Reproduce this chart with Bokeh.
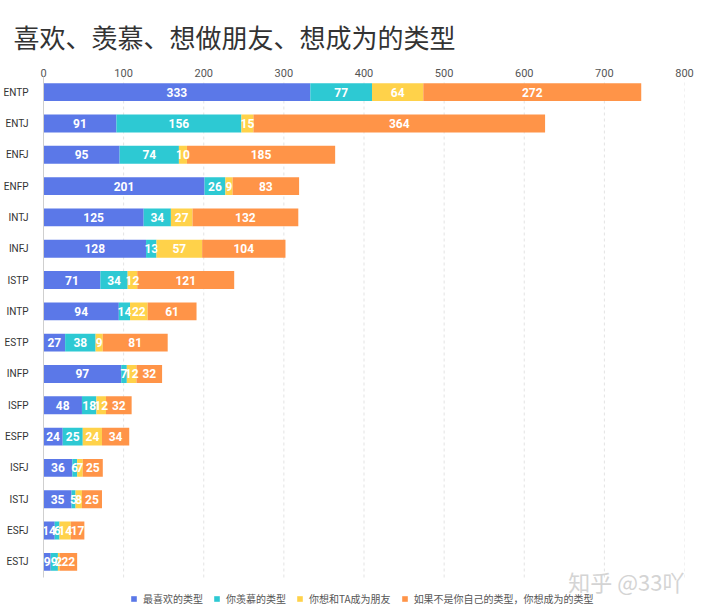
from bokeh.plotting import figure
from bokeh.models import (Range1d, Label, Legend, LegendItem,
                          ColumnDataSource, FixedTicker)
from bokeh.core.properties import value
from bokeh.embed import file_html
from bokeh.resources import INLINE

types = ["ENTP", "ENTJ", "ENFJ", "ENFP", "INTJ", "INFJ", "ISTP", "INTP",
         "ESTP", "INFP", "ISFP", "ESFP", "ISFJ", "ISTJ", "ESFJ", "ESTJ"]
like = [333, 91, 95, 201, 125, 128, 71, 94, 27, 97, 48, 24, 36, 35, 14, 9]
envy = [77, 156, 74, 26, 34, 13, 34, 14, 38, 7, 18, 25, 6, 5, 6, 9]
friend = [64, 15, 10, 9, 27, 57, 12, 22, 9, 12, 12, 24, 7, 8, 14, 2]
become = [272, 364, 185, 83, 132, 104, 121, 61, 81, 32, 32, 34, 25, 25, 17, 22]

series_names = ["最喜欢的类型", "你羡慕的类型", "你想和TA成为朋友", "如果不是你自己的类型，你想成为的类型"]
series_keys = ["like", "envy", "friend", "become"]
colors = ["#5b78e8", "#2dc9d3", "#ffd24a", "#ff9448"]
x_ticks = [0, 100, 200, 300, 400, 500, 600, 700, 800]

title_text = "喜欢、羡慕、想做朋友、想成为的类型"
watermark = "知乎 @33吖"

CJK = "Noto Sans CJK SC"
NUM = "Roboto"

n = len(types)
ypos = [n - 1 - i for i in range(n)]          # ENTP at top
band_px = 501 / n
pad = 29 / band_px                              # room below the last row for the legend

src = ColumnDataSource(dict(y=ypos, like=like, envy=envy, friend=friend, become=become))

p = figure(frame_width=641, frame_height=530, output_backend="svg", toolbar_location=None,
           x_range=Range1d(0, 800), y_range=Range1d(-0.5 - pad, n - 0.5),
           x_axis_location="above",
           min_border_left=35, min_border_right=28, min_border_top=76, min_border_bottom=0)
p.outline_line_color = None
p.background_fill_color = "white"
p.border_fill_color = "white"

p.title.text = title_text
p.title.text_font = CJK
p.title.text_font_size = "26px"
p.title.text_font_style = "normal"
p.title.text_color = "#333333"
p.title.align = "left"
p.title.offset = -30
p.title.standoff = 22

# dashed vertical grid lines, spanning only the rows
p.xgrid.grid_line_color = None
p.ygrid.grid_line_color = None
p.segment(x0=x_ticks[1:], x1=x_ticks[1:], y0=-0.5, y1=n - 0.5,
          line_color="#e3e3e3", line_dash="3 3", line_width=1)

renderers = p.hbar_stack(series_keys, y="y", height=0.57, color=colors, source=src,
                         line_color=None)

# segment labels
vals = [like, envy, friend, become]
base = [0] * n
for v in vals:
    xs = [b + x / 2 for b, x in zip(base, v)]
    s = ColumnDataSource(dict(x=xs, y=ypos, t=[str(x) for x in v]))
    p.text(x="x", y="y", text="t", source=s, text_align="center", text_baseline="middle",
           text_color="white", text_font_size="12px", text_font_style="bold",
           text_font=value(NUM))
    base = [b + x for b, x in zip(base, v)]

# axes
xa = p.xaxis[0]
xa.ticker = FixedTicker(ticks=x_ticks)
xa.axis_line_color = None
xa.major_tick_line_color = None
xa.minor_tick_line_color = None
xa.major_label_standoff = -6
xa.major_label_text_font = NUM
xa.major_label_text_font_size = "11px"
xa.major_label_text_color = "#555555"

ya = p.yaxis[0]
ya.ticker = FixedTicker(ticks=ypos)
ya.major_label_overrides = {y: t for y, t in zip(ypos, types)}
ya.bounds = (-0.5, n - 0.5)
ya.axis_line_color = "#cfcfcf"
ya.major_tick_line_color = None
ya.minor_tick_line_color = None
ya.major_label_standoff = 9
ya.major_label_text_font = NUM
ya.major_label_text_font_size = "10px"
ya.major_label_text_color = "#333333"

legend = Legend(items=[LegendItem(label=nm, renderers=[r]) for nm, r in zip(series_names, renderers)],
                orientation="horizontal", location=(87, 0), padding=0, margin=0,
                spacing=10, glyph_width=7, glyph_height=7, label_standoff=6,
                label_text_font=CJK, label_text_font_size="10px", label_text_color="#555555",
                label_height=12, border_line_color=None, background_fill_alpha=0)
p.add_layout(legend, "center")

p.add_layout(Label(x=800, y=-0.6, text=watermark, text_align="right",
                   text_font=CJK, text_font_size="22px", text_baseline="middle",
                   text_color="#d4d4d4"))

open("out.html", "w").write(file_html(p, INLINE))
